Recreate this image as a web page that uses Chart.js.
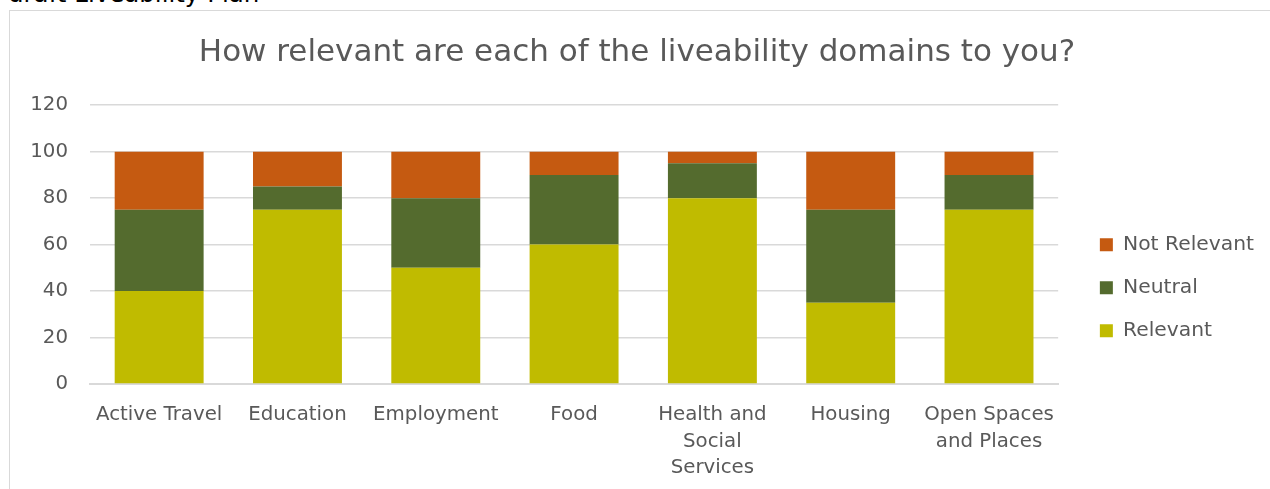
<!DOCTYPE html>
<html>
<head>
<meta charset="utf-8">
<script src="https://cdn.jsdelivr.net/npm/chart.js@4"></script>
<style>
  body { margin: 0; background: #fff; overflow: hidden; }
  #doc-title { position: absolute; left: 8px; top: -21px; font: 24.5px "DejaVu Sans", sans-serif; color: #000; }
  #box { position: absolute; left: 9px; top: 10px; width: 1280px; height: 500px; border: 1.5px solid #d9d9d9; }
  #wrap { position: absolute; left: 10px; top: 11px; width: 1270px; height: 478px; }
</style>
</head>
<body>
<div id="doc-title">draft Liveability Plan</div>
<div id="box"></div>
<div id="wrap"><canvas id="domain-chart"></canvas></div>
<script>
/* liveability domains, stacked 100 */
const categories = [
  'Active Travel',
  'Education',
  'Employment',
  'Food',
  ['Health and', 'Social', 'Services'],
  'Housing',
  ['Open Spaces', 'and Places'],
];
const relevant    = [40, 75, 50, 60, 80, 35, 75];
const neutral     = [35, 10, 30, 30, 15, 40, 15];
const notRelevant = [25, 15, 20, 10, 5, 25, 10];
const yTicks = [0, 20, 40, 60, 80, 100, 120];

const txt = '#595959';
const fontFam = '"DejaVu Sans", sans-serif';

const data = {
  labels: categories,
  datasets: [
    { label: 'Relevant', backgroundColor: '#c0bb00', data: relevant },
    { label: 'Neutral', backgroundColor: '#546b2e', data: neutral },
    { label: 'Not Relevant', backgroundColor: '#c55a11', data: notRelevant },
  ]
};

const config = {
  type: 'bar',
  data: data,
  options: {
    responsive: true,
    maintainAspectRatio: false,
    animation: false,
    datasets: { bar: { categoryPercentage: 1, barPercentage: 0.643 } },
    layout: { padding: { left: 0, right: 16, top: 0, bottom: 0 } },
    plugins: {
      tooltip: { enabled: false },
      title: {
        display: true,
        text: 'How relevant are each of the liveability domains to you?',
        color: txt,
        font: { family: fontFam, size: 31, weight: 'normal' },
        padding: { top: 23, bottom: 34 }
      },
      legend: {
        position: 'right',
        reverse: true,
        title: { display: true, text: ' ', font: { size: 8 }, padding: { top: 33, bottom: 33 } },
        labels: {
          color: txt,
          font: { family: fontFam, size: 20.3 },
          boxWidth: 13,
          boxHeight: 13,
          padding: 22.7
        }
      }
    },
    scales: {
      x: {
        stacked: true,
        grid: { display: false },
        border: { color: '#d9d9d9', width: 2 },
        afterFit: axis => { axis.height = 105; },
        ticks: { color: txt, font: { family: fontFam, size: 19.8, lineHeight: 1.34 }, padding: 10, maxRotation: 0, autoSkip: false }
      },
      y: {
        stacked: true,
        min: 0,
        max: 120,
        afterBuildTicks: axis => { axis.ticks = yTicks.map(v => ({ value: v })); },
        afterFit: axis => { axis.width = 80; },
        grid: { color: '#d9d9d9', lineWidth: 1.5, drawTicks: false },
        border: { display: false },
        ticks: { color: txt, font: { family: fontFam, size: 19.8 }, padding: 22 }
      },
      gap: {
        position: 'right',
        display: true,
        grid: { display: false },
        border: { display: false },
        ticks: { display: false },
        afterFit: axis => { axis.width = 19; }
      }
    }
  }
};

const domainChart = new Chart(document.getElementById('domain-chart'), config);
</script>
</body>
</html>
